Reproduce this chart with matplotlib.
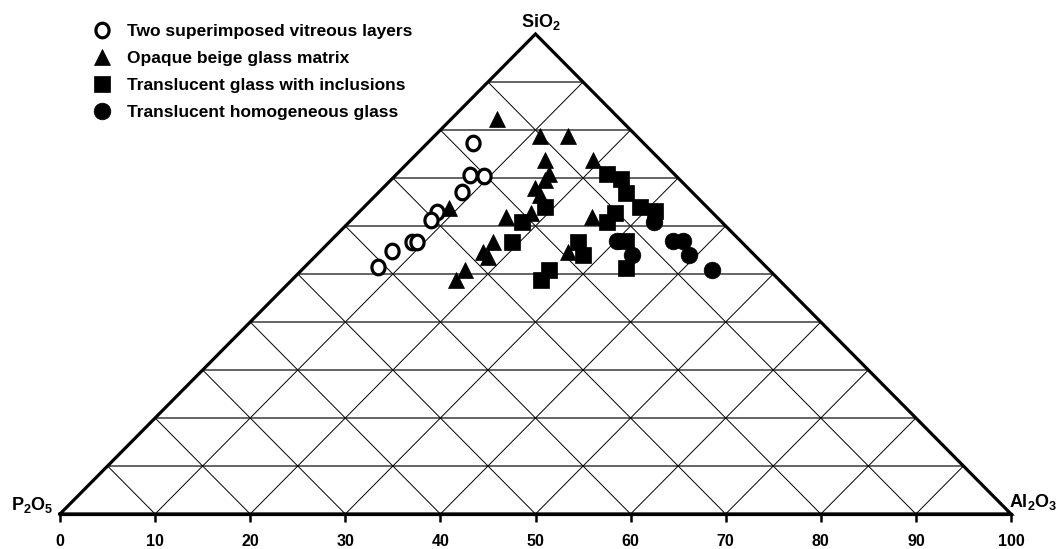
import numpy as np
import matplotlib
matplotlib.use("Agg")
import matplotlib.pyplot as plt
from matplotlib.path import Path

plt.rcParams["font.family"] = ["Liberation Sans", "DejaVu Sans"]
plt.rcParams["font.weight"] = "bold"
plt.rcParams["mathtext.fontset"] = "custom"
plt.rcParams["mathtext.rm"] = "Liberation Sans:bold"
plt.rcParams["mathtext.bf"] = "Liberation Sans:bold"

# ---- data: wt% SiO2 and Al2O3 (P2O5 = 100 - SiO2 - Al2O3) ----
layers_sio2 = [77.3, 70.6, 70.4, 67.1, 62.9, 61.3, 56.7, 56.7, 54.8, 51.5]
layers_al2o3 = [4.8, 7.8, 9.4, 8.7, 8.2, 8.4, 8.7, 9.2, 7.5, 7.7]

opaque_sio2 = [82.3, 78.8, 78.8, 73.8, 73.8, 70.8, 69.6, 67.9, 66.5, 63.8,
               62.7, 61.9, 61.9, 56.7, 54.6, 53.5, 54.6, 50.8, 48.8]
opaque_al2o3 = [4.8, 11.1, 14.0, 14.1, 19.1, 16.0, 16.2, 16.0, 17.2, 9.0,
                18.2, 16.0, 25.0, 17.2, 17.2, 18.3, 26.1, 17.2, 17.2]

inclus_sio2 = [70.8, 69.8, 66.9, 64.0, 63.1, 62.7, 60.8, 64.0, 60.8, 56.7,
               56.7, 54.0, 56.9, 51.3, 50.8, 48.8]
inclus_al2o3 = [22.1, 24.1, 26.1, 29.0, 31.0, 27.0, 27.1, 19.0, 18.2, 19.2,
                26.1, 28.0, 31.1, 33.9, 26.0, 26.2]

homog_sio2 = [60.8, 56.9, 54.0, 56.9, 56.9, 54.0, 50.8]
homog_al2o3 = [32.1, 30.1, 33.1, 36.0, 37.1, 39.1, 43.2]

labels = ["Two superimposed vitreous layers", "Opaque beige glass matrix",
          "Translucent glass with inclusions", "Translucent homogeneous glass"]
ticks = list(range(0, 101, 10))
grid_levels = list(range(10, 100, 10))


def to_xy(sio2, al2o3):
    s = np.asarray(sio2, float)
    a = np.asarray(al2o3, float)
    return a + s / 2.0, s


fig = plt.figure(figsize=(10.64, 5.49), dpi=100)
W, H = 1064, 549
ax = fig.add_axes([60 / W, 35 / H, 951 / W, 480 / H])
ax.set_xlim(0, 100)
ax.set_ylim(0, 100)

# grid
for k in grid_levels:
    ax.plot([k / 2, 100 - k / 2], [k, k], color="#3a3a3a", lw=1.1, zorder=1)
    # parallel to left edge, from (k,0) to right edge
    ax.plot([k, k + (100 - k) / 2], [0, 100 - k], color="black", lw=0.7, zorder=1)
    # parallel to right edge, from (k,0) to left edge
    ax.plot([k, k / 2], [0, k], color="black", lw=0.7, zorder=1)

# triangle outline
ax.plot([0, 50, 100, 0], [0, 100, 0, 0], color="black", lw=2.3,
        solid_joinstyle="miter", zorder=2, clip_on=False)

# hollow (slightly tall) circle marker
t = np.linspace(0, 2 * np.pi, 60)
ell = Path(np.column_stack([0.45 * np.cos(t), 0.5 * np.sin(t)]), closed=True)

x, y = to_xy(layers_sio2, layers_al2o3)
ax.plot(x, y, ls="none", marker=ell, ms=10.5, mfc="white", mec="black", mew=2.3,
        label=labels[0], zorder=3, clip_on=False)
x, y = to_xy(opaque_sio2, opaque_al2o3)
ax.plot(x, y, ls="none", marker="^", ms=11.5, mfc="black", mec="black", mew=0.5,
        label=labels[1], zorder=3, clip_on=False)
x, y = to_xy(inclus_sio2, inclus_al2o3)
ax.plot(x, y, ls="none", marker="s", ms=11.5, mfc="black", mec="black", mew=0.5,
        label=labels[2], zorder=3, clip_on=False)
x, y = to_xy(homog_sio2, homog_al2o3)
ax.plot(x, y, ls="none", marker="o", ms=12, mfc="black", mec="black", mew=0.5,
        label=labels[3], zorder=3, clip_on=False)

# axis styling
for side in ["top", "left", "right"]:
    ax.spines[side].set_visible(False)
ax.spines["bottom"].set_linewidth(2.3)
ax.set_yticks([])
ax.set_xticks(ticks)
ax.set_xticklabels([str(v) for v in ticks], fontsize=11.5, fontweight="bold")
ax.tick_params(axis="x", direction="out", length=5.5, width=1.8, pad=9)
ax.patch.set_visible(False)

# corner labels
ax.annotate(r"$\mathrm{P_2O_5}$", xy=(0, 0), xytext=(-5, 3), textcoords="offset points",
            ha="right", va="baseline", fontsize=13)
ax.annotate(r"$\mathrm{Al_2O_3}$", xy=(100, 0), xytext=(-1.5, 5), textcoords="offset points",
            ha="left", va="baseline", fontsize=13)
ax.annotate(r"$\mathrm{SiO_2}$", xy=(50, 100), xytext=(4, 5), textcoords="offset points",
            ha="center", va="baseline", fontsize=13)

leg = ax.legend(loc="upper left", bbox_to_anchor=(94 / W, 1 - 24 / H),
                bbox_transform=fig.transFigure, frameon=False,
                prop={"size": 12.5, "weight": "bold"}, handlelength=0.9,
                handletextpad=1.0, labelspacing=0.68, borderpad=0, borderaxespad=0,
                numpoints=1)

fig.savefig("out.png", dpi=100)
